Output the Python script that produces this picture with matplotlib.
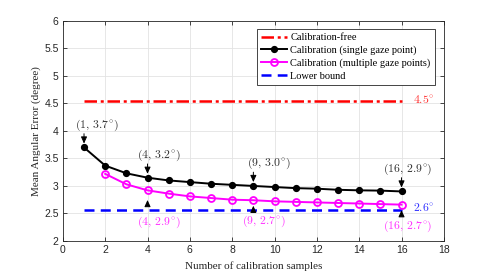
import matplotlib
matplotlib.use("Agg")
import matplotlib.pyplot as plt
import numpy as np

# ---- data ----
samples_single = [1, 2, 3, 4, 5, 6, 7, 8, 9, 10, 11, 12, 13, 14, 15, 16]
err_single = [3.70, 3.37, 3.23, 3.15, 3.10, 3.07, 3.04, 3.02, 3.00, 2.98, 2.96, 2.95, 2.93, 2.92, 2.915, 2.90]
samples_multi = [2, 3, 4, 5, 6, 7, 8, 9, 10, 11, 12, 13, 14, 15, 16]
err_multi = [3.22, 3.03, 2.92, 2.86, 2.81, 2.78, 2.75, 2.74, 2.72, 2.71, 2.70, 2.69, 2.68, 2.67, 2.66]
calib_free_x = [1, 16]
calib_free_y = [4.55, 4.55]
lower_x = [1, 16]
lower_y = [2.56, 2.56]

legend_labels = ["Calibration-free", "Calibration (single gaze point)",
                 "Calibration (multiple gaze points)", "Lower bound"]

single_ann_x = [1, 4, 9, 16]
single_ann_txt = ["(1, 3.7°)", "(4, 3.2°)", "(9, 3.0°)", "(16, 2.9°)"]
multi_ann_x = [4, 9, 16]
multi_ann_txt = ["(4, 2.9°)", "(9, 2.7°)", "(16, 2.7°)"]

xticks = [0, 2, 4, 6, 8, 10, 12, 14, 16, 18]
yticks = [2, 2.5, 3, 3.5, 4, 4.5, 5, 5.5, 6]

plt.rcParams['mathtext.fontset'] = 'cm'
serif = 'Liberation Serif'
sans = 'Liberation Sans'

fig = plt.figure(figsize=(4.91, 2.71), dpi=100)
ax = fig.add_axes([0.128, 0.111, 0.776, 0.8115])

ax.plot(calib_free_x, calib_free_y, color='#ff0000', lw=1.8, ls=(0, (5, 1.5, 1.2, 1.5)),
        label=legend_labels[0], zorder=3)
ax.plot(samples_single, err_single, color='black', lw=1.4, marker='o', ms=4.2,
        label=legend_labels[1], zorder=4)
ax.plot(samples_multi, err_multi, color='#ff00ff', lw=1.4, marker='o', ms=5,
        mfc='none', mew=1.3, label=legend_labels[2], zorder=4)
ax.plot(lower_x, lower_y, color='#0000ff', lw=1.8, ls=(0, (4, 2.5)),
        label=legend_labels[3], zorder=3)

ax.set_xlim(0, 18)
ax.set_ylim(2, 6)
ax.set_xticks(xticks)
ax.set_yticks(yticks)
ax.set_xticklabels([str(t) for t in xticks], fontfamily=sans, fontsize=7.5, color='#262626')
ax.set_yticklabels([('%g' % t) for t in yticks], fontfamily=sans, fontsize=7.5, color='#262626')
ax.tick_params(direction='in', length=3, width=0.6, colors='#262626', top=True, right=True, pad=3)
ax.grid(True, color='#e3e3e3', lw=0.6)
ax.set_axisbelow(True)
for s in ax.spines.values():
    s.set_color('#262626')
    s.set_linewidth(0.6)

ax.set_xlabel("Number of calibration samples", fontfamily=serif, fontsize=8, color='#262626', labelpad=4.5)
ax.set_ylabel("Mean Angular Error (degree)", fontfamily=serif, fontsize=8, color='#262626', labelpad=2)

leg = ax.legend(loc='upper right', bbox_to_anchor=(0.976, 0.964), prop={'family': serif, 'size': 7.5},
                frameon=True, fancybox=False, edgecolor='#262626', framealpha=1,
                handlelength=2.5, handletextpad=0.3, labelspacing=0.32, borderpad=0.4,
                borderaxespad=0)
leg.get_frame().set_linewidth(0.6)

arrow_style = dict(arrowstyle='-|>,head_length=0.4,head_width=0.18', color='black', lw=0.7,
                   shrinkA=0, shrinkB=0)

def mt(t):
    return '$' + t.replace('°', '^{\\circ}').replace(' ', '\\,') + '$'

# annotations for single gaze point
dx_single = [0.62, 0.51, 0.73, 0.30]
for x, t, dx in zip(single_ann_x, single_ann_txt, dx_single):
    y = err_single[samples_single.index(x)]
    ax.annotate('', xy=(x, y + 0.07), xytext=(x, y + 0.25), arrowprops=arrow_style)
    ax.text(x + dx, y + 0.41, mt(t), ha='center', va='center', fontsize=8.5, color='#333333')

# annotations for multiple gaze points
dx_multi = [0.53, 0.50, 0.30]
tip_multi = [-0.175, -0.10, -0.10]
tail_multi = [-0.27, -0.20, -0.19]
dy_multi = [-0.59, -0.39, -0.40]
for x, t, dx, tp, tl, dy in zip(multi_ann_x, multi_ann_txt, dx_multi, tip_multi, tail_multi, dy_multi):
    y = err_multi[samples_multi.index(x)]
    ax.annotate('', xy=(x, y + tp), xytext=(x, y + tl), arrowprops=arrow_style)
    ax.text(x + dx, y + dy, mt(t), ha='center', va='center', fontsize=8.5, color='#ff33ff')

ax.text(16.52, calib_free_y[0], '$4.5^{\\circ}$', ha='left', va='center', fontsize=8.5, color='#ff3333')
ax.text(16.52, lower_y[0] + 0.03, '$2.6^{\\circ}$', ha='left', va='center', fontsize=8.5, color='#3333ff')

fig.savefig('out.png', dpi=100)
